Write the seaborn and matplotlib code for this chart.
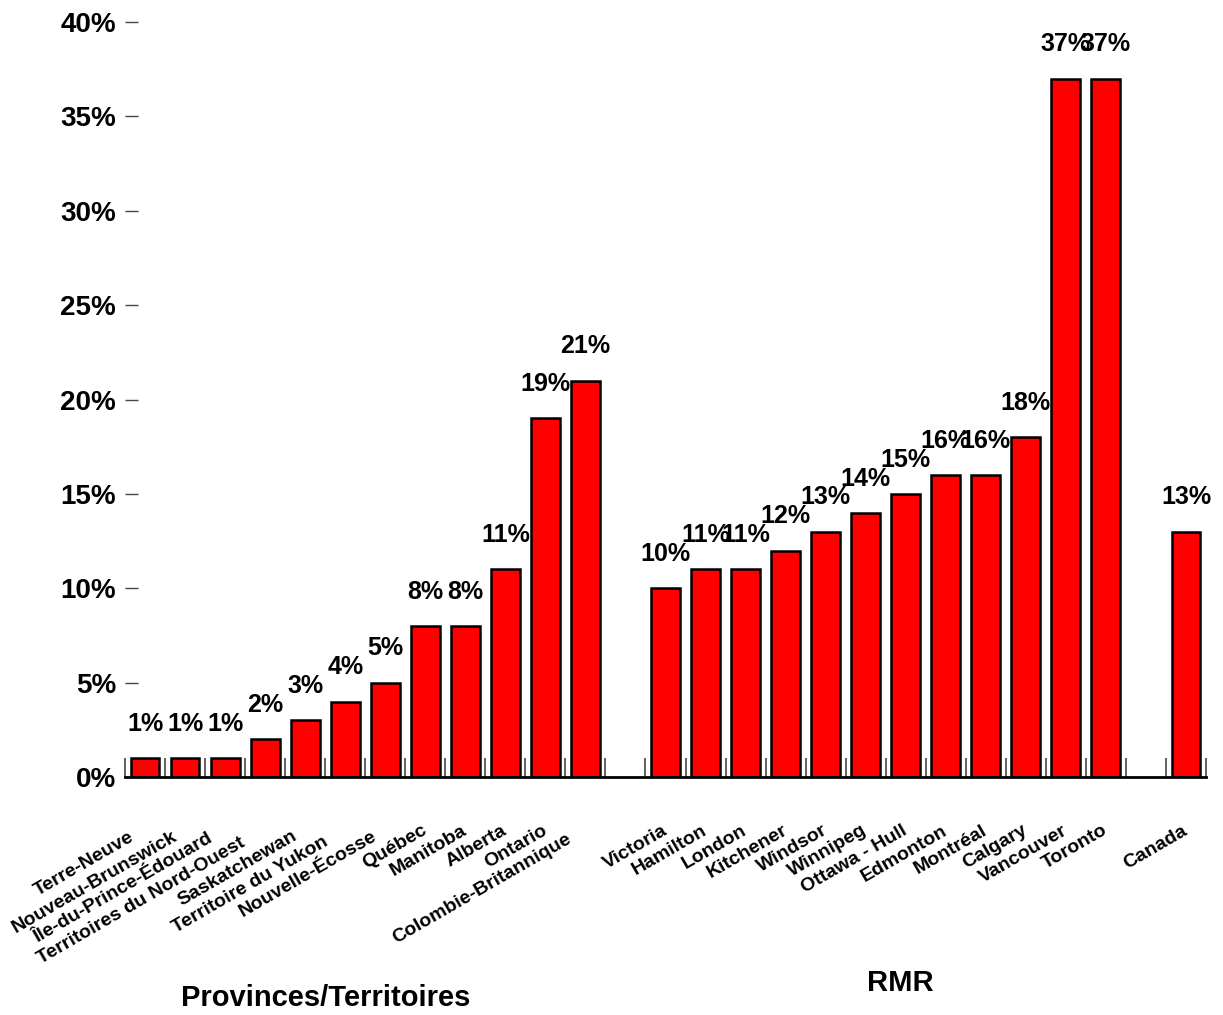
import numpy as np
import pandas as pd
import seaborn as sns
import matplotlib.pyplot as plt

# data
provinces = ['Terre-Neuve', 'Nouveau-Brunswick', 'Île-du-Prince-Édouard',
             'Territoires du Nord-Ouest', 'Saskatchewan', 'Territoire du Yukon',
             'Nouvelle-Écosse', 'Québec', 'Manitoba', 'Alberta', 'Ontario',
             'Colombie-Britannique']
prov_values = [1, 1, 1, 2, 3, 4, 5, 8, 8, 11, 19, 21]

rmr = ['Victoria', 'Hamilton', 'London', 'Kitchener', 'Windsor', 'Winnipeg',
       'Ottawa - Hull', 'Edmonton', 'Montréal', 'Calgary', 'Vancouver', 'Toronto']
rmr_values = [10, 11, 11, 12, 13, 14, 15, 16, 16, 18, 37, 37]

canada = ['Canada']
canada_values = [13]

y_ticks = [0, 5, 10, 15, 20, 25, 30, 35, 40]

# empty slots separate the three groups
order = provinces + [' '] + rmr + ['  '] + canada
df = pd.DataFrame({'Region': provinces + rmr + canada,
                   'Pct': prov_values + rmr_values + canada_values})

# the province labels are staggered back along their baseline (px)
prov_label_shift = [14, 11, 16, 25, 11, 22, 11, 0, 0, 0, 0, 18]
label_shift = prov_label_shift + [0] + [0] * len(rmr) + [0] + [0]

sns.set_theme(style='white')
plt.rcParams['font.family'] = ['Liberation Sans', 'DejaVu Sans']
plt.rcParams['text.color'] = 'black'

fig = plt.figure(figsize=(12.23, 10.15), dpi=100)
ax = fig.add_axes([125 / 1223, 1 - 777 / 1015, (1206 - 125) / 1223, (777 - 22) / 1015])

sns.barplot(data=df, x='Region', y='Pct', order=order, color='#FF0000',
            saturation=1, width=0.72, edgecolor='black', linewidth=1.8,
            errorbar=None, ax=ax)

# value labels above bars
for cont in ax.containers:
    ax.bar_label(cont, fmt='{:.0f}%', padding=16, fontsize=18,
                 fontweight='bold', color='black')

ax.set_xlim(-0.5, len(order) - 0.5)
ax.set_ylim(0, 40)
ax.set_xlabel('')
ax.set_ylabel('')

# y axis
ax.set_yticks(y_ticks)
ax.set_yticklabels([f'{v}%' for v in y_ticks], fontsize=20, fontweight='bold',
                   color='black')
ax.tick_params(axis='y', direction='in', length=9.5, width=1, color='#444444',
               pad=6.5, left=True)

# x axis: tick marks at slot boundaries, labels drawn as rotated texts
ax.set_xticks(range(len(order)))
ax.set_xticklabels([])
ax.set_xticks(np.arange(-0.5, len(order), 1), minor=True)
ax.tick_params(axis='x', which='major', length=0)
ax.tick_params(axis='x', which='minor', direction='in', length=14, width=1.3,
               color='#555555', bottom=True)

px = 72 / 100  # points per pixel
for i, (name, s) in enumerate(zip(order, label_shift)):
    if not name.strip():
        continue
    dx = (-4 - 0.866 * s) * px
    dy = (-45 - 0.5 * s) * px
    ax.annotate(name, xy=(i, 0), xycoords=('data', 'axes fraction'),
                xytext=(dx, dy), textcoords='offset points',
                rotation=30, ha='right', va='top', rotation_mode='anchor',
                fontsize=14, fontweight='bold', color='black',
                annotation_clip=False)

for s in ['left', 'top', 'right']:
    ax.spines[s].set_visible(False)
ax.spines['bottom'].set_linewidth(2)
ax.spines['bottom'].set_color('black')
ax.grid(False)

fig.text(326 / 1223, 1 - 998 / 1015, 'Provinces/Territoires', ha='center',
         va='center', fontsize=21, fontweight='bold', color='black')
fig.text(900 / 1223, 1 - 983 / 1015, 'RMR', ha='center', va='center',
         fontsize=21, fontweight='bold', color='black')

fig.savefig('out.png', dpi=100)
